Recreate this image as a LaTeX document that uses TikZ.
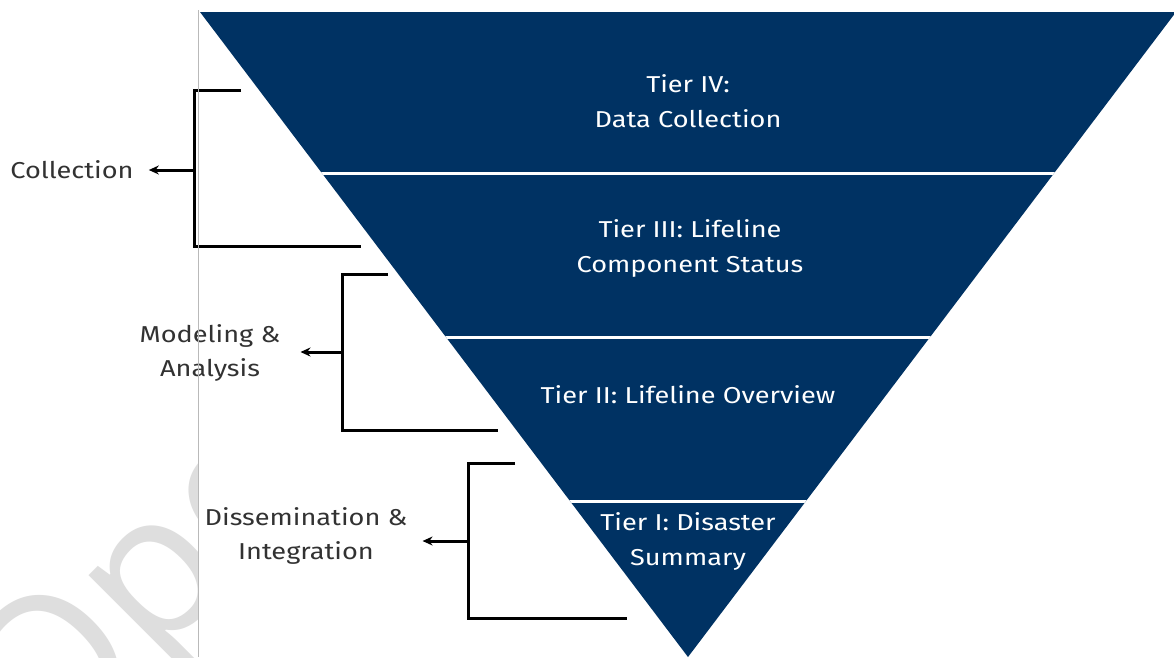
\documentclass[tikz,border=0pt]{standalone}
\usepackage{fontspec}
\setmainfont[FakeStretch=1.18]{Fira Sans}
\usetikzlibrary{arrows.meta,calc}
\definecolor{tiernavy}{RGB}{0,50,99}
\definecolor{labelgray}{RGB}{50,50,50}
\definecolor{marklight}{RGB}{222,222,222}
\newfontfamily\wmfont{Open Sans}
\tikzset{
  tiertext/.style={text=white, align=center, font=\fontsize{23}{35}\selectfont, inner sep=0pt},
  sidetext/.style={text=labelgray, align=center, font=\fontsize{23}{34}\selectfont, inner sep=0pt},
  bracket/.style={line width=3pt, black, line cap=butt, line join=miter},
  pointer/.style={line width=3pt, black, -{Stealth[length=10pt,width=9pt]}},
  divider/.style={white, line width=3pt},
}
\begin{document}
\begin{tikzpicture}[x=1pt,y=-1pt]
\useasboundingbox (0,0) rectangle (1174,657);
\fill[white] (0,0) rectangle (1174,657);

% faint watermark lettering on the left margin
\begin{scope}
  \clip (0,0) rectangle (197,657);
  \node[rotate=45, anchor=base west, inner sep=0pt, text=marklight,
        font=\wmfont\fontsize{200}{200}\selectfont] (mark) at (42,774) {Ope};
\end{scope}

% the inverted pyramid
\coordinate (tl) at (200,12);
\coordinate (tr) at (1176,12);
\coordinate (apex) at (688,657);
\fill[tiernavy] (tl) -- (tr) -- (apex) -- cycle;

% white dividers between tiers
\begin{scope}
  \clip (tl) -- (tr) -- (apex) -- cycle;
  \draw[divider] (150,173) -- (1200,173);
  \draw[divider] (150,337) -- (1200,337);
  \draw[divider] (150,501) -- (1200,501);
\end{scope}

% tier captions
\node[tiertext] (t4) at (688,101) {Tier IV:\\Data Collection};
\node[tiertext] (t3) at (690,248) {Tier III: Lifeline\\Component Status};
\node[tiertext] (t2) at (688,395) {Tier II: Lifeline Overview};
\node[tiertext] (t1) at (688,541) {Tier I: Disaster\\Summary};

% stage labels
\node[sidetext] (lcol) at (72,170) {Collection};
\node[sidetext] (lmod) at (210,353) {Modeling \&\\Analysis};
\node[sidetext] (ldis) at (306,536) {Dissemination \&\\Integration};

% brackets
\coordinate (c1) at (241,90);  \coordinate (c2) at (194,90);
\coordinate (c3) at (194,246); \coordinate (c4) at (361,246);
\coordinate (cm) at (194,170);
\coordinate (m1) at (388,274); \coordinate (m2) at (342,274);
\coordinate (m3) at (342,430); \coordinate (m4) at (498,430);
\coordinate (mm) at (342,352);
\coordinate (d1) at (515,463); \coordinate (d2) at (468,463);
\coordinate (d3) at (468,618); \coordinate (d4) at (627,618);
\coordinate (dm) at (468,541);

\draw[bracket] (c1) -- (c2) -- (c3) -- (c4);
\draw[bracket] (m1) -- (m2) -- (m3) -- (m4);
\draw[bracket] (d1) -- (d2) -- (d3) -- (d4);

\draw[pointer, shorten >=15pt] (cm) -- (cm -| lcol.east);
\draw[pointer, shorten >=20pt] (mm) -- (mm -| lmod.east);
\draw[pointer, shorten >=15pt] (dm) -- (dm -| ldis.east);

% thin margin rule
\draw[gray!55, line width=0.9pt] (198,10) -- (198,657);
\end{tikzpicture}
\end{document}
